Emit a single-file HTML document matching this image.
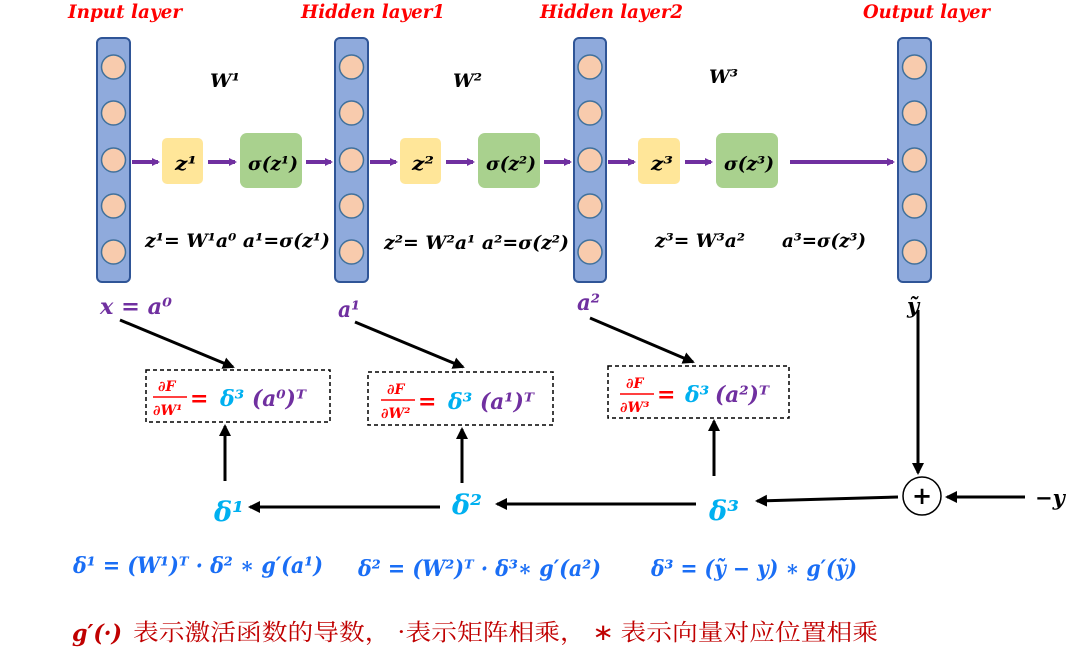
<!DOCTYPE html>
<html><head><meta charset="utf-8"><style>
body{margin:0;background:#fff}
svg{display:block}
text{font-family:"DejaVu Serif","Liberation Serif","Noto Serif CJK SC",serif;font-weight:bold;font-style:italic}
.cn{font-family:"Noto Serif CJK SC","Noto Sans CJK SC",serif;font-style:normal;font-weight:normal}
</style></head><body>
<svg width="1080" height="658" viewBox="0 0 1080 658" xmlns="http://www.w3.org/2000/svg">
<defs>
<marker id="pa" markerWidth="8" markerHeight="8" refX="6" refY="4" orient="auto" markerUnits="userSpaceOnUse"><path d="M0,0 L8,4 L0,8z" fill="#7030a0"/></marker>
<marker id="ka" markerWidth="12" markerHeight="12" refX="10" refY="6" orient="auto" markerUnits="userSpaceOnUse"><path d="M0,0 L12,6 L0,12z" fill="#000"/></marker>
</defs>
<g fill="#ff0000" font-size="19">
<text x="68" y="18" textLength="114" lengthAdjust="spacingAndGlyphs">Input layer</text>
<text x="301" y="18" textLength="144" lengthAdjust="spacingAndGlyphs">Hidden layer1</text>
<text x="540" y="18" textLength="143" lengthAdjust="spacingAndGlyphs">Hidden layer2</text>
<text x="863" y="18" textLength="127" lengthAdjust="spacingAndGlyphs">Output layer</text>
</g>
<g stroke="#2f5597" stroke-width="2" fill="#8faadc">
<rect x="97" y="38" width="33" height="244" rx="5"/>
<rect x="335" y="38" width="33" height="244" rx="5"/>
<rect x="574" y="38" width="32" height="244" rx="5"/>
<rect x="898" y="38" width="33" height="244" rx="5"/>
</g>
<g fill="#f8cbad" stroke="#41719c" stroke-width="1.5">
<circle cx="113.5" cy="67" r="12"/><circle cx="113.5" cy="113" r="12"/><circle cx="113.5" cy="160" r="12"/><circle cx="113.5" cy="206" r="12"/><circle cx="113.5" cy="252" r="12"/>
<circle cx="351.5" cy="67" r="12"/><circle cx="351.5" cy="113" r="12"/><circle cx="351.5" cy="160" r="12"/><circle cx="351.5" cy="206" r="12"/><circle cx="351.5" cy="252" r="12"/>
<circle cx="590" cy="67" r="12"/><circle cx="590" cy="113" r="12"/><circle cx="590" cy="160" r="12"/><circle cx="590" cy="206" r="12"/><circle cx="590" cy="252" r="12"/>
<circle cx="914.5" cy="67" r="12"/><circle cx="914.5" cy="113" r="12"/><circle cx="914.5" cy="160" r="12"/><circle cx="914.5" cy="206" r="12"/><circle cx="914.5" cy="252" r="12"/>
</g>
<g fill="#ffe699"><rect x="162" y="138" width="41" height="46" rx="5"/><rect x="400" y="138" width="41" height="46" rx="5"/><rect x="638" y="138" width="42" height="46" rx="5"/></g>
<g fill="#a9d18e"><rect x="240" y="133" width="62" height="55" rx="7"/><rect x="478" y="133" width="62" height="55" rx="7"/><rect x="716" y="133" width="62" height="55" rx="7"/></g>
<g stroke="#7030a0" stroke-width="4" marker-end="url(#pa)">
<line x1="132" y1="162" x2="158" y2="162"/><line x1="208" y1="162" x2="235" y2="162"/><line x1="306" y1="162" x2="331" y2="162"/>
<line x1="370" y1="162" x2="396" y2="162"/><line x1="446" y1="162" x2="473" y2="162"/><line x1="544" y1="162" x2="570" y2="162"/>
<line x1="608" y1="162" x2="634" y2="162"/><line x1="685" y1="162" x2="711" y2="162"/><line x1="790" y1="162" x2="893" y2="162"/>
</g>
<g fill="#000" font-size="19">
<text x="175" y="170" textLength="22" lengthAdjust="spacingAndGlyphs">z¹</text><text x="248" y="170" textLength="50" lengthAdjust="spacingAndGlyphs">σ(z¹)</text>
<text x="412" y="170" textLength="22" lengthAdjust="spacingAndGlyphs">z²</text><text x="486" y="170" textLength="50" lengthAdjust="spacingAndGlyphs">σ(z²)</text>
<text x="651" y="170" textLength="22" lengthAdjust="spacingAndGlyphs">z³</text><text x="724" y="170" textLength="50" lengthAdjust="spacingAndGlyphs">σ(z³)</text>
<text x="210" y="87" textLength="30" lengthAdjust="spacingAndGlyphs">W¹</text><text x="453" y="87" textLength="29" lengthAdjust="spacingAndGlyphs">W²</text><text x="709" y="83" textLength="29" lengthAdjust="spacingAndGlyphs">W³</text>
<text x="145" y="247" textLength="185" lengthAdjust="spacingAndGlyphs">z¹= W¹a⁰ a¹=σ(z¹)</text>
<text x="384" y="249" textLength="185" lengthAdjust="spacingAndGlyphs">z²= W²a¹ a²=σ(z²)</text>
<text x="655" y="247" textLength="90" lengthAdjust="spacingAndGlyphs">z³= W³a²</text>
<text x="782" y="247" textLength="84" lengthAdjust="spacingAndGlyphs">a³=σ(z³)</text>
</g>
<g fill="#7030a0" font-size="22">
<text x="100" y="314" textLength="72" lengthAdjust="spacingAndGlyphs">x = a⁰</text><text x="338" y="317" textLength="22" lengthAdjust="spacingAndGlyphs">a¹</text><text x="577" y="310" textLength="23" lengthAdjust="spacingAndGlyphs">a²</text>
</g>
<text x="907" y="313" font-size="21" fill="#000">ỹ</text>
<g fill="none" stroke="#000" stroke-width="1.5" stroke-dasharray="4,3">
<rect x="146" y="370" width="184" height="52"/><rect x="368" y="372" width="185" height="53"/><rect x="608" y="366" width="181" height="52"/>
</g>
<g font-size="22">
<g font-size="14" fill="#ff0000"><text x="158" y="391">∂F</text><text x="153" y="415">∂W¹</text><text x="387" y="394">∂F</text><text x="381" y="418">∂W²</text><text x="626" y="388">∂F</text><text x="620" y="412">∂W³</text></g>
<g stroke="#ff0000" stroke-width="1.5"><line x1="153" y1="397" x2="187" y2="397"/><line x1="381" y1="400" x2="415" y2="400"/><line x1="620" y1="394" x2="654" y2="394"/></g>
<text x="190" y="406" fill="#ff0000">=</text><text x="220" y="406" fill="#00b0f0">δ³</text><text x="252" y="406" fill="#7030a0" textLength="54" lengthAdjust="spacingAndGlyphs">(a⁰)ᵀ</text>
<text x="418" y="409" fill="#ff0000">=</text><text x="448" y="409" fill="#00b0f0">δ³</text><text x="480" y="409" fill="#7030a0" textLength="54" lengthAdjust="spacingAndGlyphs">(a¹)ᵀ</text>
<text x="657" y="402" fill="#ff0000">=</text><text x="685" y="402" fill="#00b0f0">δ³</text><text x="715" y="402" fill="#7030a0" textLength="54" lengthAdjust="spacingAndGlyphs">(a²)ᵀ</text>
</g>
<g stroke="#000" stroke-width="3" marker-end="url(#ka)">
<line x1="120" y1="320" x2="233" y2="367"/><line x1="355" y1="322" x2="463" y2="367"/><line x1="590" y1="318" x2="693" y2="362"/>
<line x1="225" y1="481" x2="225" y2="426"/><line x1="462" y1="483" x2="462" y2="429"/><line x1="714" y1="476" x2="714" y2="421"/>
<line x1="918" y1="310" x2="918" y2="473"/><line x1="1025" y1="497" x2="947" y2="497"/><line x1="898" y1="497" x2="757" y2="501"/>
<line x1="696" y1="504" x2="497" y2="504"/><line x1="440" y1="507" x2="250" y2="507"/>
</g>
<circle cx="922" cy="496" r="19" fill="#fff" stroke="#000" stroke-width="1.5"/>
<text x="912" y="504" font-size="24" font-style="normal" font-weight="normal" fill="#000">+</text>
<text x="1035" y="505" font-size="21" fill="#000">−y</text>
<g fill="#00b0f0" font-size="27"><text x="214" y="521" textLength="30" lengthAdjust="spacingAndGlyphs">δ¹</text><text x="452" y="514" textLength="30" lengthAdjust="spacingAndGlyphs">δ²</text><text x="709" y="520" textLength="30" lengthAdjust="spacingAndGlyphs">δ³</text></g>
<g fill="#1a6ef5" font-size="22">
<text x="73" y="573" textLength="250" lengthAdjust="spacingAndGlyphs">δ¹ = (W¹)ᵀ · δ² ∗ g′(a¹)</text>
<text x="358" y="576" textLength="243" lengthAdjust="spacingAndGlyphs">δ² = (W²)ᵀ · δ³∗ g′(a²)</text>
<text x="651" y="576" textLength="206" lengthAdjust="spacingAndGlyphs">δ³ = (ỹ − y) ∗ g′(ỹ)</text>
</g>
<text x="72" y="641" font-size="23" fill="#c00000" textLength="50" lengthAdjust="spacingAndGlyphs">g′(·)</text>
<text x="133" y="640" font-size="23" fill="#c00000" class="cn" textLength="745" lengthAdjust="spacingAndGlyphs">表示激活函数的导数， ·表示矩阵相乘， ∗ 表示向量对应位置相乘</text>
</svg>
</body></html>
